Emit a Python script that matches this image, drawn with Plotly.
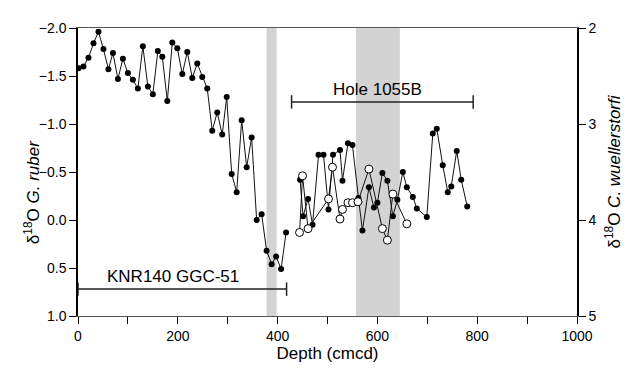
import plotly.graph_objects as go

# KNR140 GGC-51, G. ruber d18O (left axis)
ggc_depth = [1, 11, 21, 31, 41, 51, 61, 70, 80, 90, 100, 110, 120, 130, 140, 150, 160, 169, 179, 189,
             199, 209, 219, 229, 239, 249, 259, 269, 279, 289, 298, 308, 318, 328, 338, 348, 358, 368,
             378, 388, 397, 407, 417]
ggc_ruber = [-1.58, -1.60, -1.69, -1.84, -1.96, -1.78, -1.57, -1.74, -1.47, -1.68, -1.53, -1.46, -1.37,
             -1.81, -1.39, -1.31, -1.76, -1.70, -1.24, -1.85, -1.79, -1.52, -1.75, -1.48, -1.63, -1.49,
             -1.37, -0.93, -1.12, -0.89, -1.28, -0.48, -0.29, -1.04, -0.55, -0.86, 0.00, -0.06, 0.32,
             0.46, 0.38, 0.51, 0.13]

# Hole 1055B, G. ruber d18O (left axis)
hole_depth = [445, 451, 461, 470, 482, 492, 502, 511, 525, 530, 541, 550, 562, 570, 583, 593, 600, 610,
              620, 631, 640, 651, 659, 671, 679, 699, 711, 719, 731, 741, 748, 759, 768, 780]
hole_ruber = [-0.42, -0.04, -0.22, 0.05, -0.68, -0.68, -0.11, -0.68, -0.73, -0.41, -0.80, -0.78, -0.23,
              0.11, -0.34, -0.13, -0.18, -0.49, -0.41, -0.04, -0.21, -0.50, -0.34, -0.24, -0.12, -0.03,
              -0.90, -0.95, -0.57, -0.29, -0.35, -0.72, -0.42, -0.14]

# Hole 1055B, C. wuellerstorfi d18O (right axis)
cw_depth = [444, 450, 461, 502, 510, 525, 530, 541, 550, 561, 583, 610, 620, 631, 659]
cw_value = [4.13, 3.54, 4.09, 3.78, 3.45, 3.99, 3.89, 3.82, 3.82, 3.81, 3.47, 4.09, 4.21, 3.73, 4.04]

# shaded intervals (depth)
band_starts = [378, 557]
band_ends = [398, 645]

# record ranges
knr_label = "KNR140 GGC-51"
knr_range = [0, 418]
knr_level = 0.72
hole_label = "Hole 1055B"
hole_range = [428, 792]
hole_level = -1.23

x_ticks = [0, 200, 400, 600, 800, 1000]
y_left_ticks = [-2.0, -1.5, -1.0, -0.5, 0.0, 0.5, 1.0]
y_right_ticks = [2, 3, 4, 5]

left_title = "δ<sup>18</sup>O <i>G. ruber</i>"
right_title = "δ<sup>18</sup>O <i>C. wuellerstorfi</i>"
x_title = "Depth (cmcd)"

FONT = "Liberation Sans, Arial, Helvetica, sans-serif"

fig = go.Figure()

fig.add_trace(go.Scatter(x=ggc_depth, y=ggc_ruber, mode="lines+markers",
                         line=dict(color="#111", width=1),
                         marker=dict(color="black", size=6), showlegend=False))
fig.add_trace(go.Scatter(x=hole_depth, y=hole_ruber, mode="lines+markers",
                         line=dict(color="#111", width=1),
                         marker=dict(color="black", size=6), showlegend=False))
fig.add_trace(go.Scatter(x=cw_depth, y=cw_value, mode="lines+markers", yaxis="y2",
                         line=dict(color="#111", width=1),
                         marker=dict(color="white", size=8, line=dict(color="black", width=1)),
                         showlegend=False))

shapes = []
for a, b in zip(band_starts, band_ends):
    shapes.append(dict(type="rect", xref="x", yref="paper", x0=a, x1=b, y0=0, y1=1,
                       fillcolor="#d3d3d3", line=dict(width=0), layer="below"))

cap = 0.07
for rng, lvl in [(knr_range, knr_level), (hole_range, hole_level)]:
    shapes.append(dict(type="line", xref="x", yref="y", x0=rng[0], x1=rng[1], y0=lvl, y1=lvl,
                       line=dict(color="#222", width=1.5)))
    for xv in rng:
        shapes.append(dict(type="line", xref="x", yref="y", x0=xv, x1=xv, y0=lvl - cap, y1=lvl + cap,
                           line=dict(color="#222", width=1.5)))

annotations = [
    dict(x=(knr_range[0] + knr_range[1]) / 2 - 19, y=knr_level, xref="x", yref="y",
         text=knr_label, showarrow=False, yanchor="bottom", yshift=1,
         font=dict(family=FONT, size=17, color="black")),
    dict(x=(hole_range[0] + hole_range[1]) / 2 - 10, y=hole_level, xref="x", yref="y",
         text=hole_label, showarrow=False, yanchor="bottom", yshift=1,
         font=dict(family=FONT, size=17, color="black")),
    dict(x=0, y=0.43, xref="paper", yref="paper", xshift=-46, text=left_title, textangle=-90,
         showarrow=False, xanchor="center", yanchor="middle",
         font=dict(family=FONT, size=17, color="black")),
]

fig.update_layout(
    width=633, height=377,
    margin=dict(l=70, r=64, t=15, b=69),
    paper_bgcolor="white", plot_bgcolor="white",
    font=dict(family=FONT, size=14, color="black"),
    shapes=shapes, annotations=annotations,
    xaxis=dict(range=[0, 1000], tickvals=x_ticks, ticks="outside", ticklen=7, tickwidth=1,
               tickcolor="black",
               minor=dict(dtick=100, ticks="outside", ticklen=7, tickcolor="black", tickwidth=1),
               showline=True, linecolor="#555", linewidth=1, mirror=True,
               showgrid=False, zeroline=False,
               title=dict(text=x_title, font=dict(size=17), standoff=4)),
    yaxis=dict(range=[1.0, -2.0], tickvals=y_left_ticks, tickformat=".1f", ticks="outside",
               ticklen=7, tickcolor="black", showline=True, linecolor="black", linewidth=1.5,
               showgrid=False, zeroline=False),
    yaxis2=dict(range=[5, 2], tickvals=y_right_ticks, overlaying="y", side="right",
                ticks="outside", ticklen=7, tickcolor="black", showline=True, linecolor="black",
                linewidth=1.5, showgrid=False, zeroline=False,
                title=dict(text=right_title, font=dict(size=17), standoff=13)),
)

fig.write_html("out.html")
